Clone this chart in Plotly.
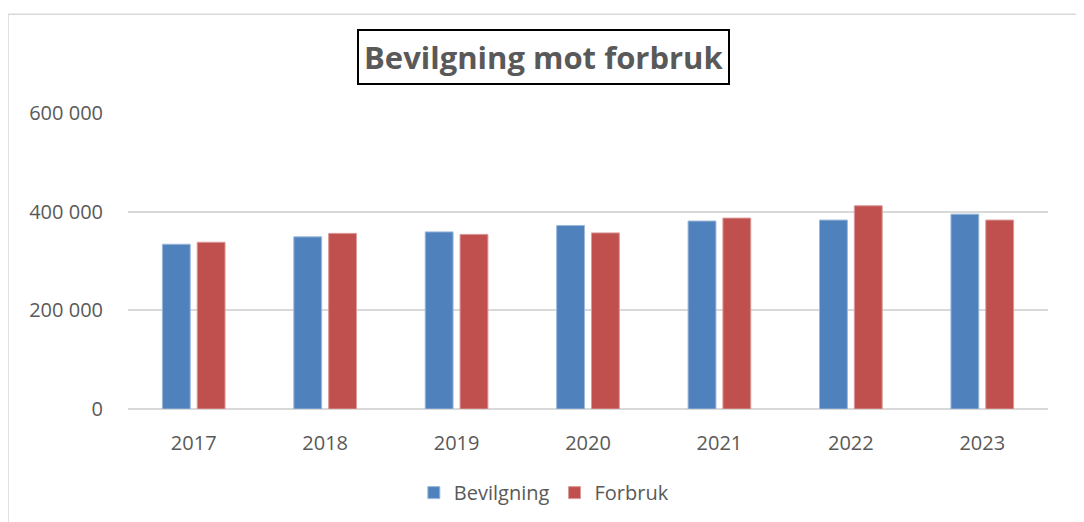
import plotly.graph_objects as go

# Data
years = ["2017", "2018", "2019", "2020", "2021", "2022", "2023"]
bevilgning = [334000, 349000, 359000, 372000, 381000, 383000, 395000]
forbruk = [338000, 356000, 354000, 357000, 387000, 412000, 383000]
y_ticks = [0, 200000, 400000, 600000]
y_tick_text = ["0", "200 000", "400 000", "600 000"]

BLUE = "#4F81BD"
RED = "#C0504D"
TEXT = "#595959"
GRID = "#D9D9D9"
FONT = "Open Sans"

fig = go.Figure()
fig.add_trace(go.Bar(x=years, y=bevilgning, name="Bevilgning",
                     marker=dict(color=BLUE, line=dict(color="#9DB8DA", width=1))))
fig.add_trace(go.Bar(x=years, y=forbruk, name="Forbruk",
                     marker=dict(color=RED, line=dict(color="#DA9C9A", width=1))))

# Title in a black framed box
fig.add_annotation(text="<b>Bevilgning mot forbruk</b>", xref="paper", yref="paper",
                   x=0.452, y=1.189, xanchor="center", yanchor="middle", showarrow=False,
                   font=dict(family=FONT, size=31, color=TEXT),
                   bordercolor="black", borderwidth=2, borderpad=5, bgcolor="white")

# Chart area border (light grey)
fig.add_shape(type="rect", xref="paper", yref="paper",
              x0=-0.1304, x1=1.12, y0=-0.45, y1=1.334,
              line=dict(color=GRID, width=1.5), layer="below")

fig.update_layout(
    width=1084, height=522,
    margin=dict(l=120, r=44, t=105, b=121),
    paper_bgcolor="white", plot_bgcolor="white",
    barmode="group", bargap=0.47, bargroupgap=0.2,
    font=dict(family=FONT, size=20, color=TEXT),
    showlegend=True,
    legend=dict(orientation="h", x=0.452, y=-0.2825, xanchor="center", yanchor="middle",
                font=dict(family=FONT, size=20, color=TEXT), itemwidth=30,
                traceorder="normal"),
)
fig.update_yaxes(range=[0, 600000], tickvals=y_ticks, ticktext=y_tick_text,
                 showgrid=True, gridcolor=GRID, gridwidth=1.5,
                 zeroline=True, zerolinecolor=GRID, zerolinewidth=1.5,
                 showline=False, ticklabelstandoff=24,
                 tickfont=dict(family=FONT, size=20, color=TEXT))
fig.update_xaxes(showgrid=False, showline=False, ticklabelstandoff=20,
                 tickfont=dict(family=FONT, size=20, color=TEXT))

fig.write_html("out.html")
